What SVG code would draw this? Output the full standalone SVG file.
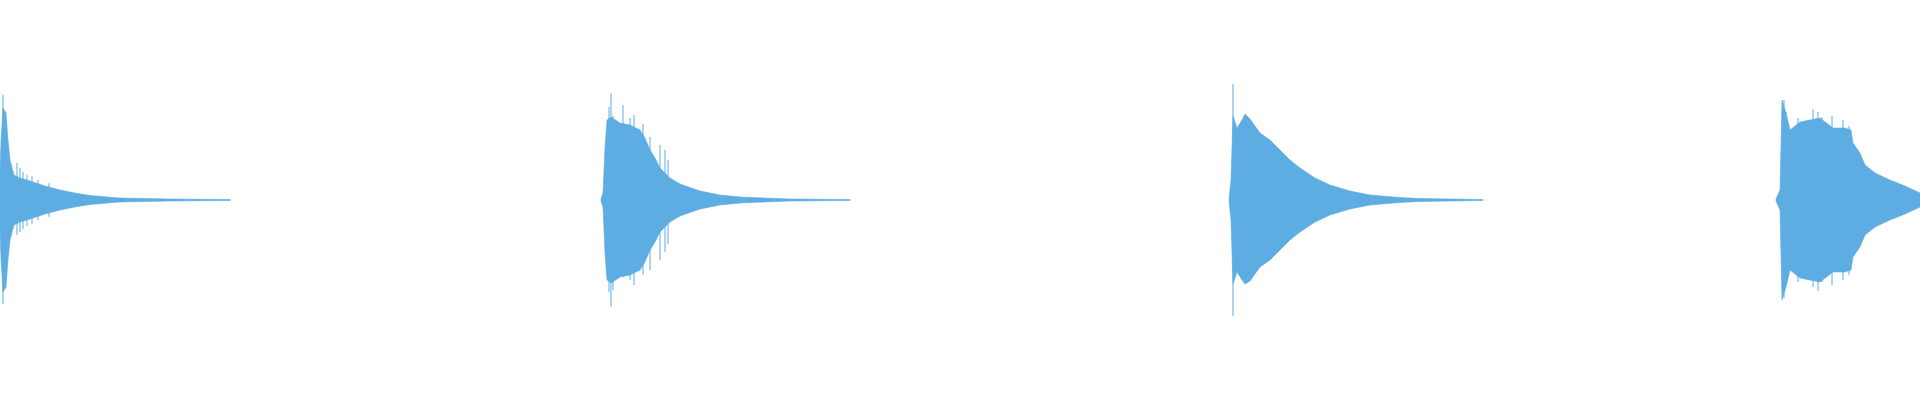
<svg xmlns="http://www.w3.org/2000/svg" width="1920" height="400" viewBox="0 0 1920 400">
<style>.w{fill:#5dade2;stroke:#5dade2;stroke-width:0.6}.s{stroke:#5dade2;stroke-width:1}</style>
<rect width="1920" height="400" fill="#fff"/>
<g id="wave1"><path class="w" d="M0,170 L1,140 L3,108 L6,113 L8,140 L10,160 L14,175 L20,178 L30,181 L45,186 L60,190 L75,193 L90,195.5 L120,198 L170,199 L230,199.5 L230,200.5 L170,201 L120,202 L90,204.5 L75,207 L60,210 L45,214 L30,219 L20,222 L14,225 L10,240 L8,260 L6,287 L3,292 L1,260 L0,230 Z"/>
<path class="s" d="M3,95V304M7,140V260M17,163V235M20,168V232M23,172V229M27,175V226M32,176V224M38,180V220M49,183V217"/></g>
<g id="wave2"><path class="w" d="M601,199 L603,193 L605,147 L607,120 L611,117 L620,123 L630,125 L640,130 L645,138 L650,150 L655,158 L660,168 L670,178 L680,184 L700,191 L720,195 L740,197 L790,199 L850,199.5 L850,200.5 L790,201 L740,203 L720,205 L700,209 L680,216 L670,222 L660,232 L655,242 L650,250 L645,262 L640,270 L630,275 L620,277 L611,283 L607,280 L605,253 L603,207 L601,201 Z"/>
<path class="s" d="M611,93V307M609,107V292M613,116V290M623,105V277M630,118V280M634,115V285M643,124V275M650,137V270M660,145V260M665,150V252M668,160V244"/></g>
<g id="wave3"><path class="w" d="M1229,199 L1231,180 L1233,116 L1237,128 L1242,120 L1245,114 L1250,119 L1260,133 L1270,140 L1280,150 L1290,160 L1300,168 L1315,178 L1330,185 L1350,191 L1370,195 L1400,197.5 L1420,198.5 L1483,199.5 L1483,200.5 L1420,201.5 L1400,202.5 L1370,205 L1350,209 L1330,215 L1315,222 L1300,232 L1290,240 L1280,250 L1270,260 L1260,267 L1250,281 L1245,284 L1242,280 L1237,272 L1233,284 L1231,220 L1229,201 Z"/>
<line class="s" x1="1233" y1="84" x2="1233" y2="316"/></g>
<g id="wave4"><path class="w" d="M1776,199 L1780,190 L1781,145 L1782,100 L1786,113 L1790,130 L1800,122 L1810,120 L1820,118 L1833,128 L1845,128 L1851,130 L1853,143 L1860,153 L1865,165 L1875,173 L1890,180 L1905,186 L1920,193 L1920,207 L1905,214 L1890,220 L1875,227 L1865,235 L1860,247 L1853,257 L1851,270 L1845,272 L1833,272 L1820,282 L1810,280 L1800,278 L1790,270 L1786,287 L1782,300 L1781,255 L1780,210 L1776,201 Z"/>
<path class="s" d="M1784,100V298M1786,112V285M1798,118V282M1805,126V278M1813,109V287M1818,112V291M1822,117V282M1832,116V285M1843,120V280M1849,126V275"/></g>
</svg>
